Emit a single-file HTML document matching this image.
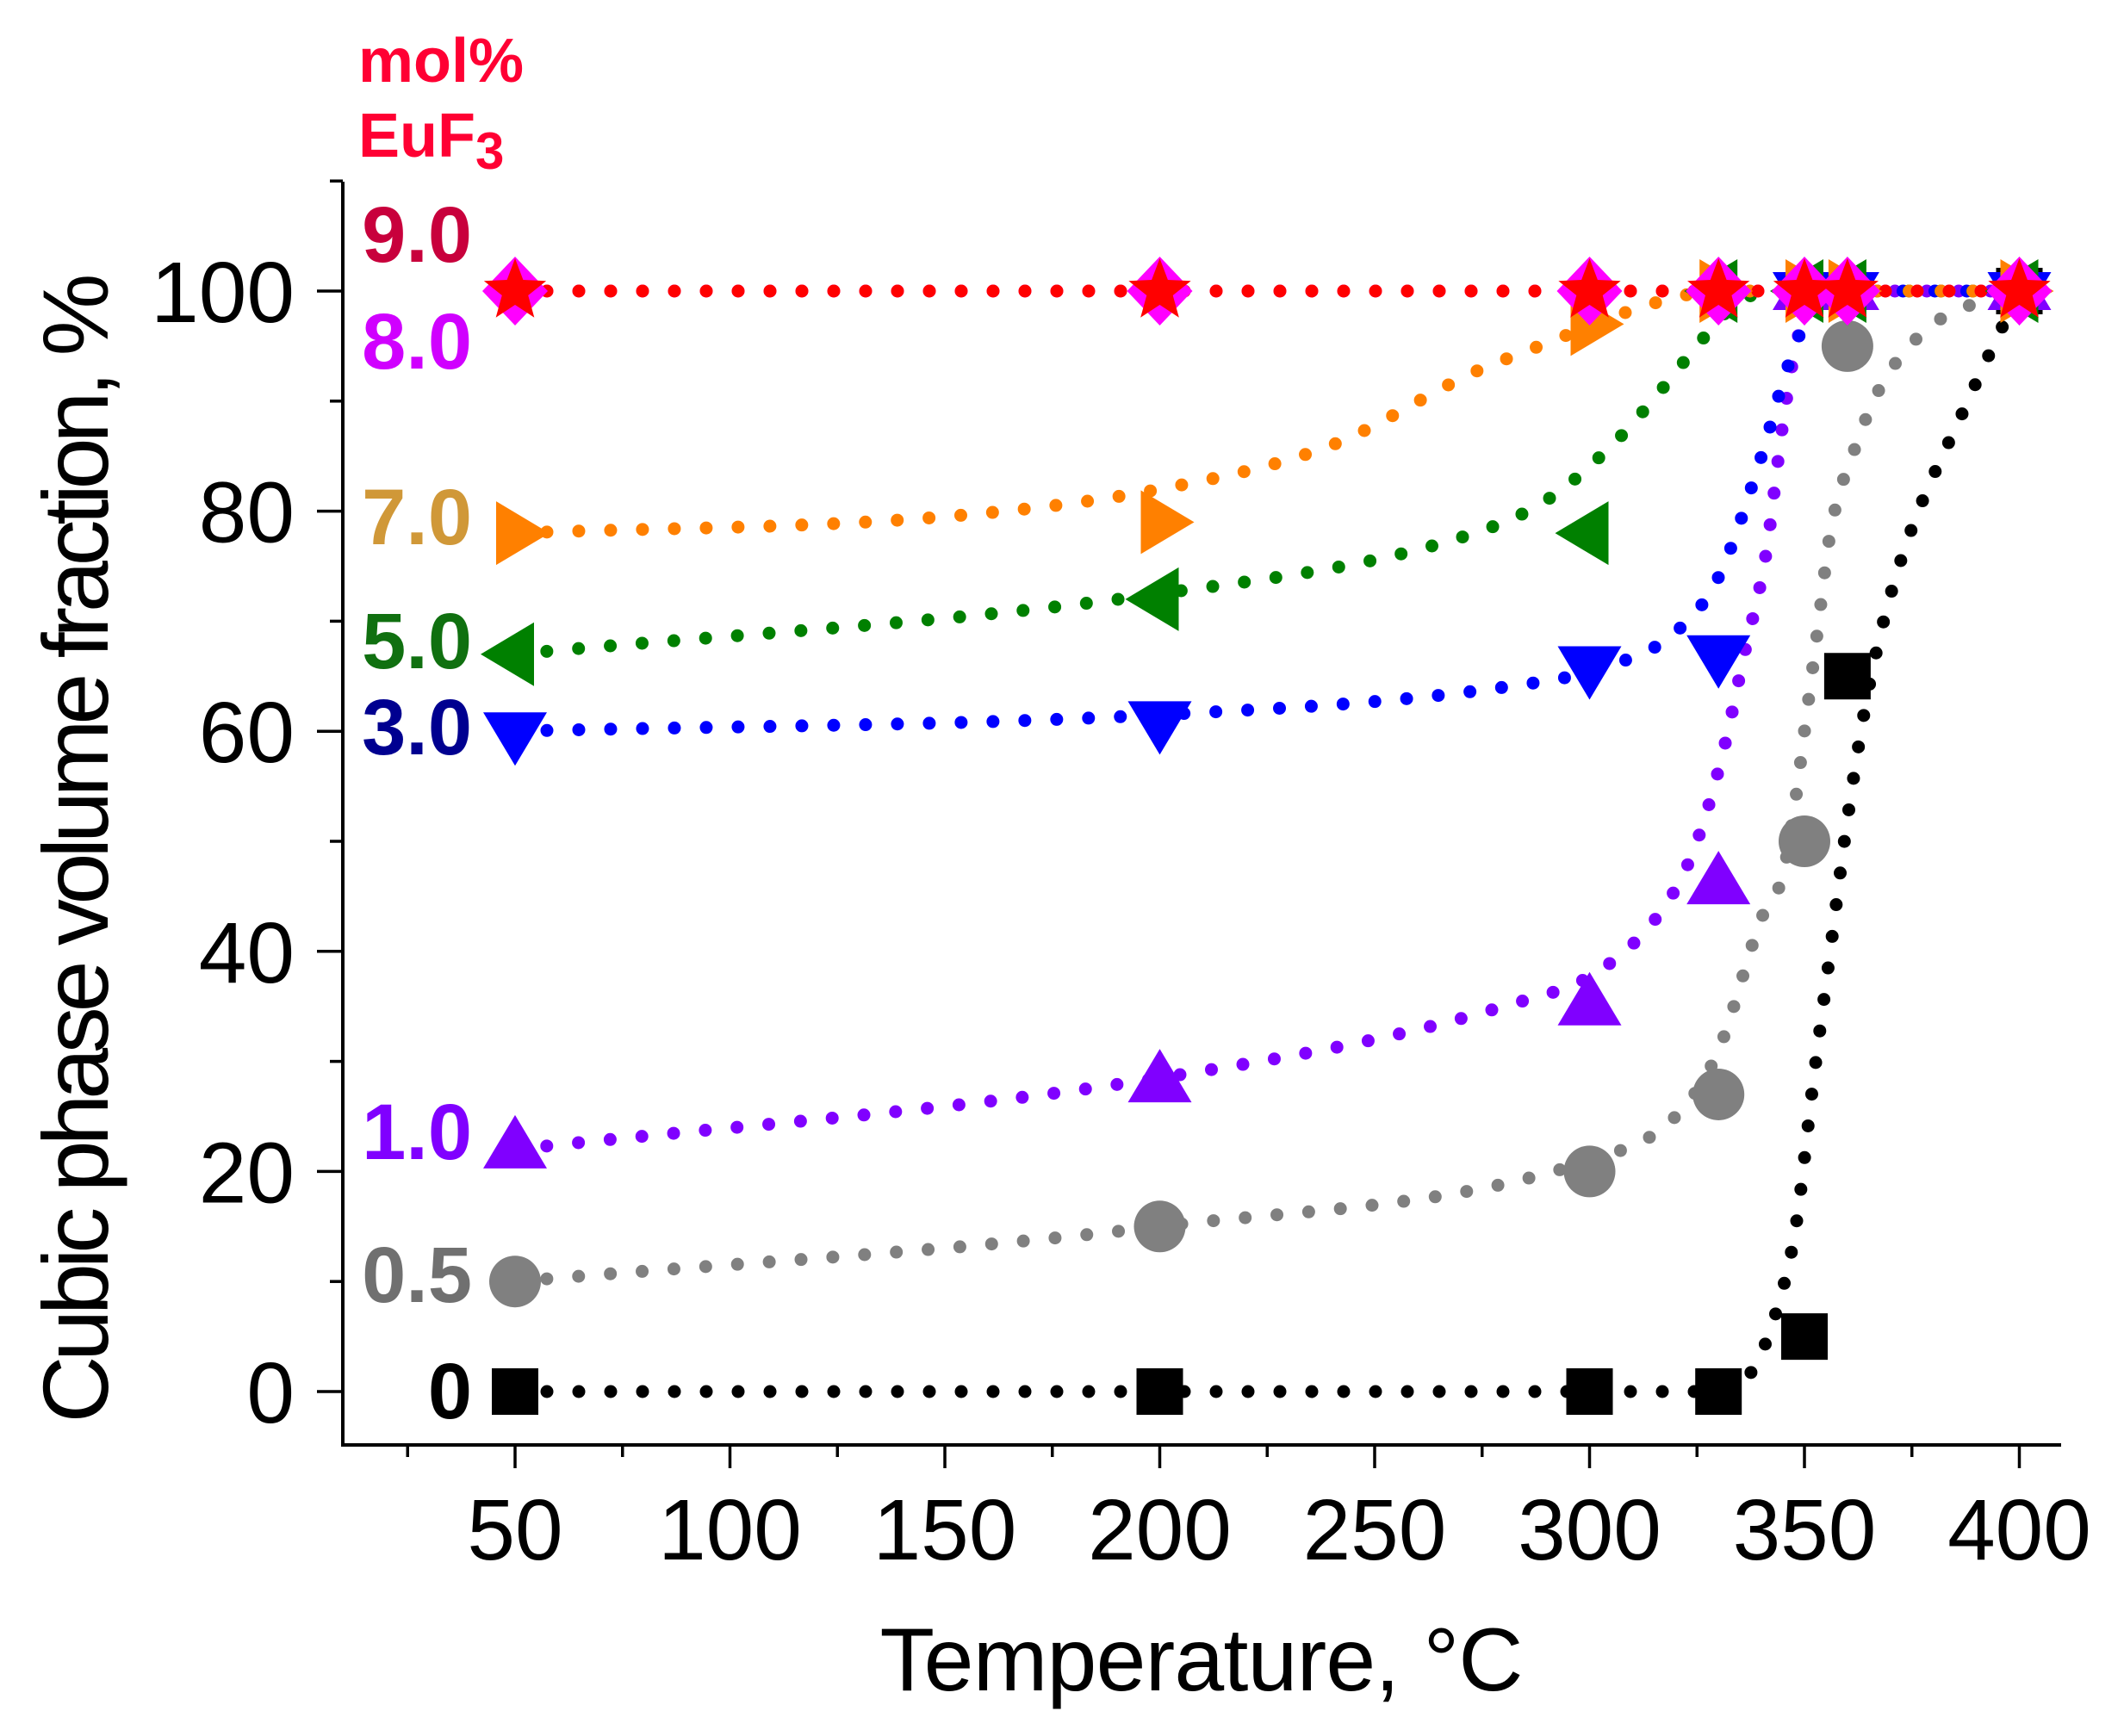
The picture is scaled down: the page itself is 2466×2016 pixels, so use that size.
<!DOCTYPE html>
<html><head><meta charset="utf-8"><style>html,body{margin:0;padding:0;background:#fff}svg{display:block}</style></head>
<body>
<svg id="chart" xmlns="http://www.w3.org/2000/svg" width="2466" height="2016" viewBox="0 0 2466 2016" font-family="Liberation Sans, Arial, sans-serif">
<rect width="2466" height="2016" fill="#fff"/>
<g id="axes"></g>
<g id="fits"></g>
<g id="marks"></g>
<g id="labels">
<text x="416" y="95" font-size="72" font-weight="bold" fill="#ff0033">mol%</text>
<text x="416" y="182" font-size="72" font-weight="bold" fill="#ff0033">EuF<tspan font-size="60" dy="14">3</tspan></text>
</g>
<text x="1395" y="1963" font-size="104" text-anchor="middle" textLength="747">Temperature, °C</text>
<text transform="translate(125,985) rotate(-90)" font-size="108" text-anchor="middle" textLength="1335">Cubic phase volume fraction, %</text>
</svg>
<script>
const temps = [50, 200, 300, 330, 350, 360, 400];
const s0 = [0, 0, 0, 0, 5, 65, 100];
const s05 = [10, 15, 20, 27, 50, 95, 100];
const s1 = [22, 28, 35, 46, 100, 100, 100];
const s3 = [60, 61, 66, 67, 100, 100, 100];
const s5 = [67, 72, 78, 100, 100, 100, 100];
const s7 = [78, 79, 97, 100, 100, 100, 100];
const s8 = [100, 100, 100, 100, 100, 100, 100];
const s9 = [100, 100, 100, 100, 100, 100, 100];
const fit0X = [50, 330, 338, 344, 348, 352, 356, 360, 365, 372, 388, 400];
const fit0Y = [0, 0, 2, 8, 15, 28, 40, 52, 64, 75, 90, 100];
const fit05X = [50, 200, 300, 320, 330, 340, 345, 348, 350, 353, 356, 362, 368, 380, 400];
const fit05Y = [10, 15, 21, 25, 31, 43, 47, 54, 60, 69, 78, 86, 91.5, 97, 100];
const fit1X = [50, 200, 280, 304, 319, 325, 331, 336, 341, 345, 348, 353, 400];
const fit1Y = [22, 28.5, 35, 38.7, 45, 50, 58, 67, 76, 88, 95, 100, 100];
const fit3X = [50, 200, 280, 305, 320, 330, 340, 346, 352, 360, 400];
const fit3Y = [60, 61.5, 64, 66, 69, 74, 85, 93, 98.5, 100, 100];
const fit5X = [50, 200, 270, 290, 306, 316, 326, 333, 342, 400];
const fit5Y = [67, 72.5, 77.6, 81, 86.3, 90.7, 95.5, 98.5, 100, 100];
const fit7X = [50, 150, 200, 240, 273, 287, 300, 315, 330, 400];
const fit7Y = [78, 79.5, 82, 86, 92.6, 94.8, 96.8, 98.9, 100, 100];
const fit8X = [50, 400];
const fit8Y = [100, 100];
const fit9X = [50, 400];
const fit9Y = [100, 100];
const labelNames = ["0", "0.5", "1.0", "3.0", "5.0", "7.0", "8.0", "9.0"];
const xTicks = [50, 100, 150, 200, 250, 300, 350, 400];
const yTicks = [0, 20, 40, 60, 80, 100];

const NS = "http://www.w3.org/2000/svg";
function xs(v){ return 598 + (v - 50) * 4.99; }
function ys(v){ return 1616 - v * 12.78; }
function mk(tag, attrs, parent){ const e = document.createElementNS(NS, tag); for (const k in attrs) e.setAttribute(k, attrs[k]); parent.appendChild(e); return e; }

const axes = document.getElementById('axes');
const AX0 = 398, AX1 = 2393, AY0 = 211, AY1 = 1678;
let el = mk('line', {x1: AX0, y1: AY0, x2: AX0, y2: AY1 + 2, stroke: '#000', 'stroke-width': 4}, axes);


el = mk('line', {x1: AX0 - 2, y1: AY1, x2: AX1, y2: AY1, stroke: '#000', 'stroke-width': 4}, axes);


for (let v = 25; v <= 400; v += 25) {
  const major = v % 50 === 0;
  el = mk('line', {x1: xs(v), y1: AY1, x2: xs(v), y2: AY1 + (major ? 27 : 14), stroke: '#000', 'stroke-width': 3.5}, axes);
  
  
}
for (let v = 0; v <= 110; v += 10) {
  const major = v % 20 === 0;
  el = mk('line', {x1: AX0 - (major ? 30 : 15), y1: ys(v), x2: AX0, y2: ys(v), stroke: '#000', 'stroke-width': 3.5}, axes);
  
  
}
xTicks.forEach(v => {
  el = mk('text', {x: xs(v), y: 1811, 'font-size': 100, 'text-anchor': 'middle'}, axes);
  el.textContent = String(v);
  
  
});
yTicks.forEach(v => {
  el = mk('text', {x: 342, y: ys(v) + 36, 'font-size': 100, 'text-anchor': 'end'}, axes);
  el.textContent = String(v);
  
  
});

// monotone cubic (Fritsch-Carlson) in pixel space
function smoothPath(X, Y){
  const px = X.map(xs), py = Y.map(ys), n = px.length;
  if (n === 2) return `M${px[0]},${py[0]}L${px[1]},${py[1]}`;
  const d = [], m = new Array(n);
  for (let i = 0; i < n - 1; i++) d.push((py[i+1] - py[i]) / (px[i+1] - px[i]));
  m[0] = d[0]; m[n-1] = d[n-2];
  for (let i = 1; i < n - 1; i++) m[i] = (d[i-1] * d[i] <= 0) ? 0 : (d[i-1] + d[i]) / 2;
  for (let i = 0; i < n - 1; i++) {
    if (d[i] === 0) { m[i] = 0; m[i+1] = 0; continue; }
    const a = m[i] / d[i], b = m[i+1] / d[i], s = a*a + b*b;
    if (s > 9) { const t = 3 / Math.sqrt(s); m[i] = t * a * d[i]; m[i+1] = t * b * d[i]; }
  }
  let p = `M${px[0]},${py[0]}`;
  for (let i = 0; i < n - 1; i++) {
    const h = (px[i+1] - px[i]) / 3;
    p += `C${px[i]+h},${py[i]+m[i]*h} ${px[i+1]-h},${py[i+1]-m[i+1]*h} ${px[i+1]},${py[i+1]}`;
  }
  return p;
}
const fits = document.getElementById('fits');
const marks = document.getElementById('marks');
const series = [
  {vals: s0, fx: fit0X, fy: fit0Y, col: '#000000', shape: 'square', key: '0'},
  {vals: s05, fx: fit05X, fy: fit05Y, col: '#808080', shape: 'circle', key: '0-5'},
  {vals: s1, fx: fit1X, fy: fit1Y, col: '#8000ff', shape: 'up', key: '1-0'},
  {vals: s3, fx: fit3X, fy: fit3Y, col: '#0000ff', shape: 'down', key: '3-0'},
  {vals: s5, fx: fit5X, fy: fit5Y, col: '#008000', shape: 'left', key: '5-0'},
  {vals: s7, fx: fit7X, fy: fit7Y, col: '#ff8000', shape: 'right', key: '7-0'},
  {vals: s8, fx: fit8X, fy: fit8Y, col: '#ff00ff', shape: 'diamond', key: '8-0'},
  {vals: s9, fx: fit9X, fy: fit9Y, col: '#ff0000', shape: 'star', key: '9-0'}
];
function shapePath(shape, cx, cy){
  switch (shape) {
    case 'square': return `M${cx-27},${cy-27}h54v54h-54z`;
    case 'up': return `M${cx},${cy-40}L${cx+37},${cy+22}L${cx-37},${cy+22}z`;
    case 'down': return `M${cx},${cy+40}L${cx+37},${cy-22}L${cx-37},${cy-22}z`;
    case 'left': return `M${cx-40},${cy}L${cx+22},${cy-37}L${cx+22},${cy+37}z`;
    case 'right': return `M${cx+40},${cy}L${cx-22},${cy-37}L${cx-22},${cy+37}z`;
    case 'diamond': return `M${cx},${cy-40}L${cx+38},${cy}L${cx},${cy+40}L${cx-38},${cy}z`;
    case 'star': {
      let d = '';
      for (let k = 0; k < 10; k++) {
        const r = k % 2 === 0 ? 38 : 16, a = -Math.PI / 2 + k * Math.PI / 5;
        d += (k ? 'L' : 'M') + (cx + r * Math.cos(a)) + ',' + (cy + r * Math.sin(a));
      }
      return d + 'z';
    }
  }
  return '';
}
series.forEach(s => {
  const p = mk('path', {d: smoothPath(s.fx, s.fy), fill: 'none', stroke: s.col, 'stroke-width': 15, 'stroke-linecap': 'round', 'stroke-dasharray': '0 37'}, fits);
  
  
});
series.forEach(s => {
  temps.forEach((t, i) => {
    const cx = xs(t), cy = ys(s.vals[i]);
    let m;
    if (s.shape === 'circle') m = mk('circle', {cx: cx, cy: cy, r: 30, fill: s.col}, marks);
    else m = mk('path', {d: shapePath(s.shape, cx, cy), fill: s.col}, marks);
    
    
  });
});
const labels = document.getElementById('labels');
const labelCols = ['#000000', '#707070', '#8000ff', '#000090', '#107010', '#d09838', '#d000ff', '#c8003c'];
const labelYs = [1647, 1512, 1346, 876, 776, 632, 428, 304];
labelNames.forEach((n, i) => {
  const t = mk('text', {x: 548, y: labelYs[i], 'font-size': 92, 'font-weight': 'bold', 'text-anchor': 'end', fill: labelCols[i]}, labels);
  t.textContent = n;
  
  
});
</script>
</body></html>
